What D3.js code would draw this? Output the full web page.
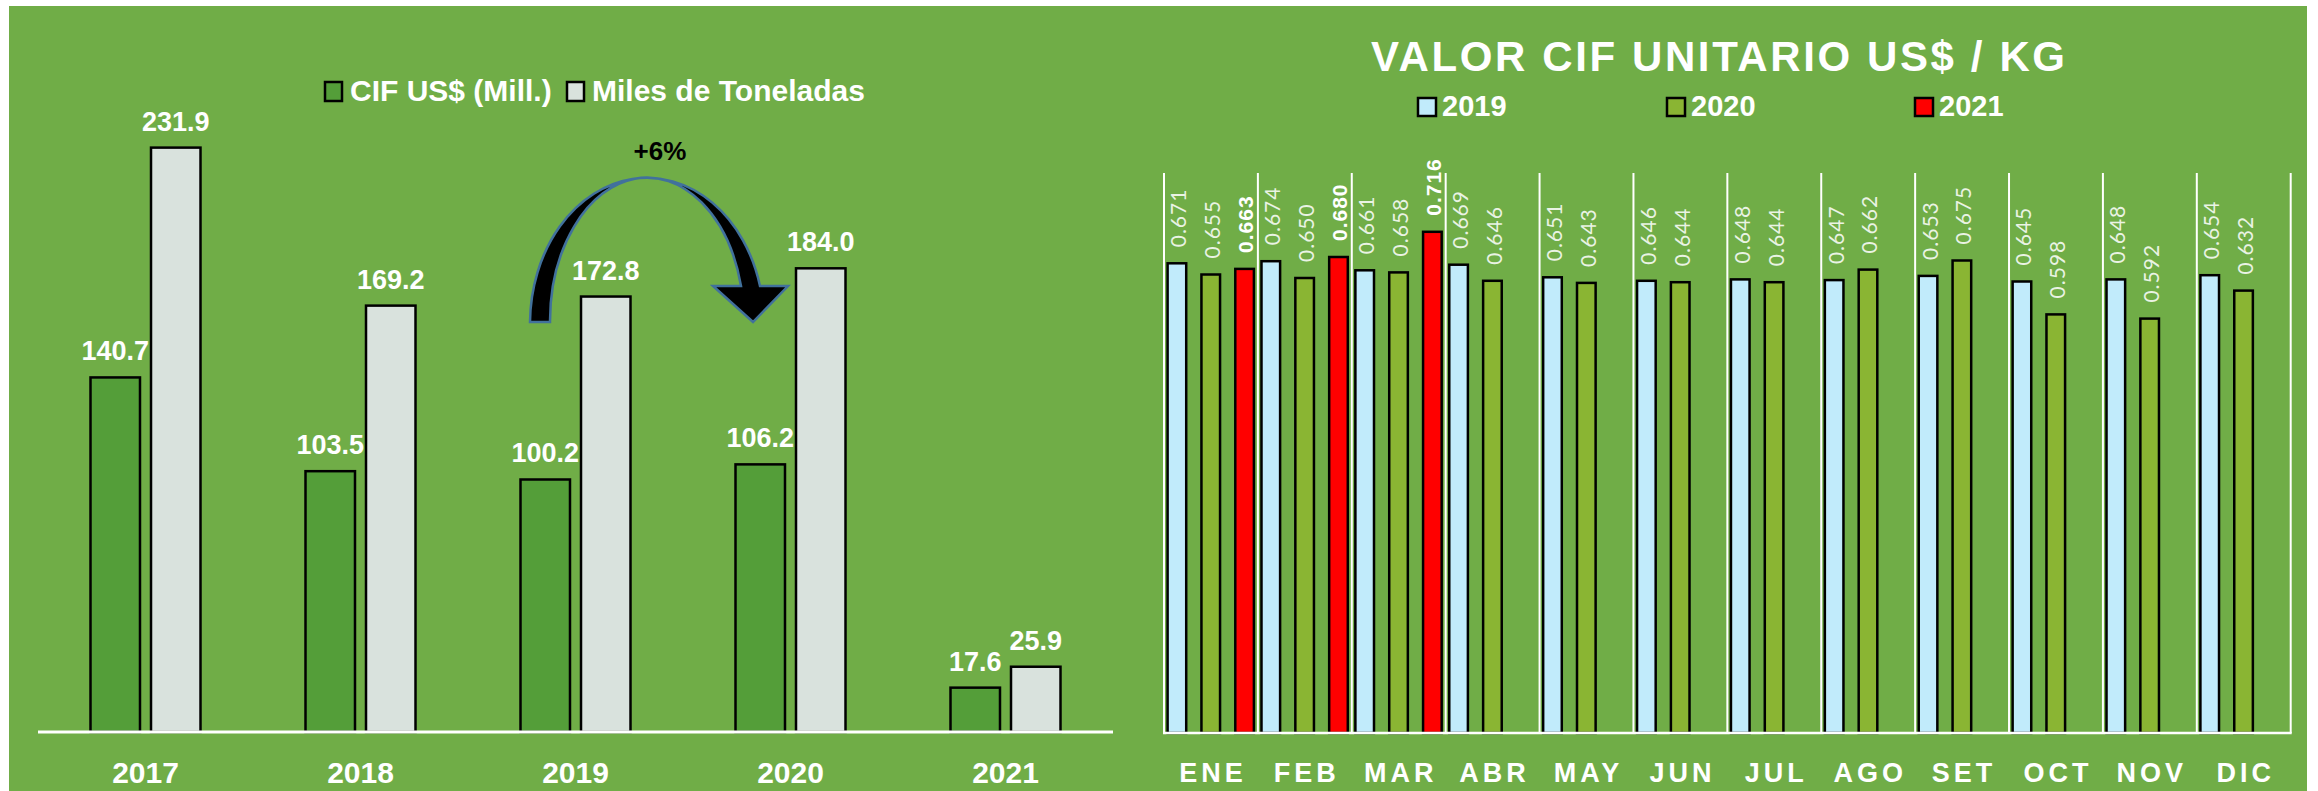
<!DOCTYPE html>
<meta charset="utf-8">
<html>
<head>
<style>
  body { margin: 0; background: #fff; }
  svg text { font-family: "Liberation Sans", Arial, sans-serif; }
</style>
</head>
<body>
<script src="https://cdn.jsdelivr.net/npm/d3@7/dist/d3.min.js"></script>
<script>
  // left chart data
  var years = ["2017", "2018", "2019", "2020", "2021"];
  var cifUSD = [140.7, 103.5, 100.2, 106.2, 17.6];
  var milesTon = [231.9, 169.2, 172.8, 184.0, 25.9];
  var leftSeries = ["CIF US$ (Mill.)", "Miles de Toneladas"];

  // right chart data
  var months = ["ENE", "FEB", "MAR", "ABR", "MAY", "JUN", "JUL", "AGO", "SET", "OCT", "NOV", "DIC"];
  var v2019 = [0.671, 0.674, 0.661, 0.669, 0.651, 0.646, 0.648, 0.647, 0.653, 0.645, 0.648, 0.654];
  var v2020 = [0.655, 0.650, 0.658, 0.646, 0.643, 0.644, 0.644, 0.662, 0.675, 0.598, 0.592, 0.632];
  var v2021 = [0.663, 0.680, 0.716];
  var rightSeries = ["2019", "2020", "2021"];

  var bg = "#70AD47";
  var leftColors = ["#549E39", "#D9E2DD"];
  var rightColors = ["#C1EBFB", "#8AB533", "#FF0000"];

  svg = d3.select("body").append("svg")
    .attr("width", 2318)
    .attr("height", 791);

  svg.append("rect").attr("width", 2318).attr("height", 791).attr("fill", "#fff");
  svg.append("rect").attr("x", 9).attr("y", 6).attr("width", 2298).attr("height", 785).attr("fill", bg);

  // ---- left chart ----
  var xL = d3.scaleBand().domain(years).range([38, 1113]).padding(0);
  var xL1 = d3.scaleBand().domain(leftSeries).range([52.5, 162.5]).paddingInner(0.182);
  var yL = d3.scaleLinear().domain([0, 250]).range([732, 102]);

  var leftRows = years.map(function(y, i) {
    return { year: y, vals: [cifUSD[i], milesTon[i]] };
  });

  var gL = svg.append("g");
  var groups = gL.selectAll(".yr").data(leftRows).enter().append("g")
    .attr("transform", function(d) { return "translate(" + xL(d.year) + ",0)"; });

  groups.selectAll("rect").data(function(d) { return d.vals; }).enter().append("rect")
    .attr("x", function(d, i) { return xL1(leftSeries[i]); })
    .attr("y", function(d) { return yL(d); })
    .attr("width", xL1.bandwidth())
    .attr("height", function(d) { return yL(0) - yL(d); })
    .attr("fill", function(d, i) { return leftColors[i]; })
    .attr("stroke", "#000")
    .attr("stroke-width", 2.5);

  groups.selectAll("text.val").data(function(d) { return d.vals; }).enter().append("text")
    .attr("class", "val")
    .attr("x", function(d, i) { return xL1(leftSeries[i]) + xL1.bandwidth() / 2; })
    .attr("y", function(d) { return yL(d) - 17; })
    .attr("text-anchor", "middle")
    .style("font-family", "'Liberation Sans Narrow', 'Liberation Sans', sans-serif")
    .style("font-size", "27px")
    .style("font-weight", "bold")
    .attr("fill", "#fff")
    .text(function(d) { return d.toFixed(1); });

  gL.append("line")
    .attr("x1", 38).attr("x2", 1113)
    .attr("y1", 732).attr("y2", 732)
    .attr("stroke", "#fff").attr("stroke-width", 3);

  gL.selectAll("text.yr").data(years).enter().append("text")
    .attr("class", "yr")
    .attr("x", function(d) { return xL(d) + xL.bandwidth() / 2; })
    .attr("y", 783)
    .attr("text-anchor", "middle")
    .style("font-family", "'Liberation Sans Narrow', 'Liberation Sans', sans-serif")
    .style("font-size", "30px")
    .style("font-weight", "bold")
    .attr("fill", "#fff")
    .text(function(d) { return d; });

  // left legend
  var legX = [325, 567];
  leftSeries.forEach(function(s, i) {
    gL.append("rect").attr("x", legX[i]).attr("y", 82).attr("width", 17).attr("height", 19)
      .attr("fill", leftColors[i]).attr("stroke", "#000").attr("stroke-width", 2.5);
    gL.append("text").attr("x", legX[i] + 25).attr("y", 101)
      .style("font-size", "30px").style("font-weight", "bold")
      .attr("fill", "#fff").text(s);
  });

  // curved arrow annotation between 2019 and 2020
  gL.append("path")
    .attr("d", "M530,322 A117,146 0 0 1 760,286 L788,286 L753,322 L713,286 L741,286 A97,144 0 0 0 550,322 Z")
    .attr("fill", "#000")
    .attr("stroke", "#41719C")
    .attr("stroke-width", 2.5);

  gL.append("text").attr("x", 660).attr("y", 160)
    .attr("text-anchor", "middle")
    .style("font-size", "26px").style("font-weight", "bold")
    .attr("fill", "#000").text("+6%");

  // ---- right chart ----
  var xR = d3.scaleBand().domain(months).range([1164, 2290.7]).padding(0);
  var xR1 = d3.scaleBand().domain(rightSeries).range([3.6, 89.9]).paddingInner(0.45);
  var yR = d3.scaleLinear().domain([0, 0.8]).range([733, 173]);

  var gR = svg.append("g");

  gR.append("text").attr("x", 1718).attr("y", 71)
    .attr("text-anchor", "middle")
    .attr("textLength", 694).attr("lengthAdjust", "spacing")
    .style("font-size", "42px").style("font-weight", "bold")
    .attr("fill", "#fff").text("VALOR CIF UNITARIO US$ / KG");

  var rlegX = [1418, 1667, 1915];
  rightSeries.forEach(function(s, i) {
    gR.append("rect").attr("x", rlegX[i]).attr("y", 98).attr("width", 18).attr("height", 18)
      .attr("fill", rightColors[i]).attr("stroke", "#000").attr("stroke-width", 2.5);
    gR.append("text").attr("x", rlegX[i] + 24).attr("y", 116)
      .style("font-size", "29px").style("font-weight", "bold")
      .attr("fill", "#fff").text(s);
  });

  var rightBars = [];
  [v2019, v2020, v2021].forEach(function(arr, si) {
    arr.forEach(function(v, mi) {
      rightBars.push({ month: months[mi], series: rightSeries[si], si: si, value: v });
    });
  });

  gR.selectAll("rect.bar").data(rightBars).enter().append("rect")
    .attr("class", "bar")
    .attr("x", function(d) { return xR(d.month) + xR1(d.series); })
    .attr("y", function(d) { return yR(d.value); })
    .attr("width", xR1.bandwidth())
    .attr("height", function(d) { return yR(0) - yR(d.value); })
    .attr("fill", function(d) { return rightColors[d.si]; })
    .attr("stroke", "#000")
    .attr("stroke-width", 2.5);

  gR.selectAll("text.val").data(rightBars).enter().append("text")
    .attr("class", "val")
    .attr("transform", function(d) {
      var cx = xR(d.month) + xR1(d.series) + xR1.bandwidth() / 2 + 1;
      return "translate(" + cx + "," + (yR(d.value) - 16) + ") rotate(-90)";
    })
    .attr("dominant-baseline", "central")
    .style("font-family", function(d) { return d.si == 2 ? "'Liberation Sans', sans-serif" : "Lato, 'Liberation Sans', sans-serif"; })
    .style("font-size", "21px")
    .style("font-weight", function(d) { return d.si == 2 ? "bold" : "normal"; })
    .style("letter-spacing", "1px")
    .attr("fill", function(d) { return d.si == 2 ? "#fff" : "#EAF3E4"; })
    .text(function(d) { return d.value.toFixed(3); });

  // month separators
  var sepX = months.map(function(m) { return xR(m); }).concat([xR.range()[1]]);
  gR.selectAll("line.sep").data(sepX).enter().append("line")
    .attr("class", "sep")
    .attr("x1", function(d) { return d; }).attr("x2", function(d) { return d; })
    .attr("y1", 173).attr("y2", 733)
    .attr("stroke", "#fff").attr("stroke-width", 2);

  gR.append("line")
    .attr("x1", 1163).attr("x2", 2291.7)
    .attr("y1", 733).attr("y2", 733)
    .attr("stroke", "#fff").attr("stroke-width", 2.5);

  gR.selectAll("text.mon").data(months).enter().append("text")
    .attr("class", "mon")
    .attr("x", function(d) { return xR(d) + xR.bandwidth() / 2 + 2; })
    .attr("y", 782)
    .attr("text-anchor", "middle")
    .style("font-size", "27px")
    .style("font-weight", "bold")
    .style("letter-spacing", "4px")
    .attr("fill", "#fff")
    .text(function(d) { return d; });
</script>
</body>
</html>
